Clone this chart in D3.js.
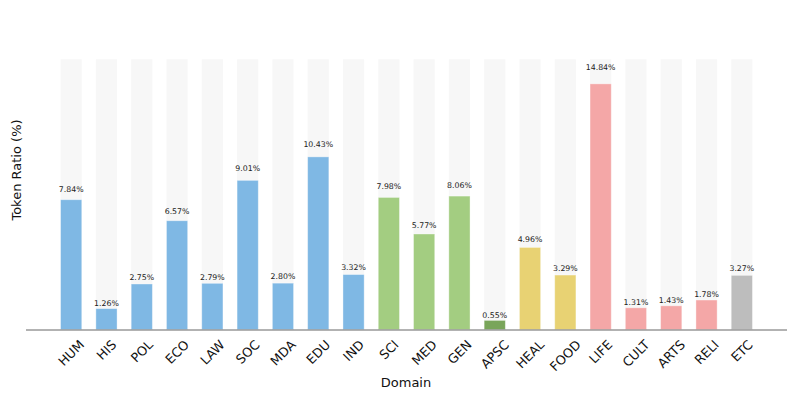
<!DOCTYPE html>
<html lang="en">
<head>
    <meta charset="UTF-8">
    <title>Token Ratio by Domain</title>
    <script src="https://d3js.org/d3.v7.min.js"></script>
    <style>
        body {
            margin: 0;
            background: #fff;
        }
        text {
            font-family: "DejaVu Sans", sans-serif;
        }
        .value-label {
            font-size: 7.8px;
            fill: #222;
        }
        .tick-label {
            font-size: 12.8px;
            fill: #111;
        }
        .axis-title {
            font-size: 13px;
            fill: #111;
        }
    </style>
</head>
<body>
    <div id="chart"></div>

    <script>
        // Data
        const domains = ["HUM", "HIS", "POL", "ECO", "LAW", "SOC", "MDA", "EDU", "IND",
            "SCI", "MED", "GEN", "APSC", "HEAL", "FOOD", "LIFE", "CULT", "ARTS", "RELI", "ETC"];
        const ratios = [7.84, 1.26, 2.75, 6.57, 2.79, 9.01, 2.80, 10.43, 3.32,
            7.98, 5.77, 8.06, 0.55, 4.96, 3.29, 14.84, 1.31, 1.43, 1.78, 3.27];
        const groups = ["hum", "hum", "hum", "hum", "hum", "hum", "hum", "hum", "hum",
            "sci", "sci", "sci", "apsc", "health", "health", "life", "life", "life", "life", "etc"];

        // Colours per group
        const groupColors = {
            hum: "#7fb8e4",
            sci: "#a3cd81",
            apsc: "#79a55a",
            health: "#e8d273",
            life: "#f4a7a7",
            etc: "#bdbdbd"
        };

        const width = 797;
        const height = 399;
        const data = domains.map((d, i) => ({ domain: d, value: ratios[i], group: groups[i] }));

        const svg = d3.select("#chart")
            .append("svg")
            .attr("width", width)
            .attr("height", height);

        // Scales
        const x = d3.scaleBand()
            .domain(domains)
            .range([26, 787])
            .paddingInner(0.4)
            .paddingOuter(0.98);

        const yMax = d3.max(ratios) * 1.1;
        const y = d3.scaleLinear()
            .domain([0, yMax])
            .range([329.5, 59.3]);

        // Background track bars
        svg.selectAll(".track")
            .data(data)
            .enter()
            .append("rect")
            .attr("class", "track")
            .attr("x", d => x(d.domain))
            .attr("y", y(yMax))
            .attr("width", x.bandwidth())
            .attr("height", y(0) - y(yMax))
            .style("fill", "#f7f7f7");

        // Value bars
        svg.selectAll(".bar")
            .data(data)
            .enter()
            .append("rect")
            .attr("class", "bar")
            .attr("x", d => x(d.domain))
            .attr("y", d => y(d.value))
            .attr("width", x.bandwidth())
            .attr("height", d => y(0) - y(d.value))
            .style("fill", d => groupColors[d.group])
            .style("stroke", "#fff")
            .style("stroke-opacity", 0.45)
            .style("stroke-width", 0.8);

        // Value labels
        svg.selectAll(".value-label")
            .data(data)
            .enter()
            .append("text")
            .attr("class", "value-label")
            .attr("x", d => x(d.domain) + x.bandwidth() / 2)
            .attr("y", d => y(d.value * 1.05) - 1.5)
            .attr("text-anchor", "middle")
            .text(d => d.value.toFixed(2) + "%");

        // Bottom axis line (no ticks)
        svg.append("line")
            .attr("x1", 26)
            .attr("x2", 787)
            .attr("y1", 330)
            .attr("y2", 330)
            .style("stroke", "#666")
            .style("stroke-width", 1);

        // Rotated tick labels, centred on each bar
        const tickTop = 339;
        const tickSize = 12.8;
        svg.selectAll(".tick-label")
            .data(data)
            .enter()
            .append("text")
            .attr("class", "tick-label")
            .attr("text-anchor", "middle")
            .attr("dy", "0.36em")
            .text(d => d.domain)
            .each(function (d) {
                const w = this.getComputedTextLength();
                const cx = x(d.domain) + x.bandwidth() / 2;
                const cy = tickTop + (w + 0.73 * tickSize) * Math.SQRT1_2 / 2;
                d3.select(this)
                    .attr("x", cx)
                    .attr("y", cy)
                    .attr("transform", `rotate(-45, ${cx}, ${cy})`);
            });

        // Axis titles
        svg.append("text")
            .attr("class", "axis-title")
            .attr("x", 406)
            .attr("y", 387)
            .attr("text-anchor", "middle")
            .text("Domain");

        svg.append("text")
            .attr("class", "axis-title")
            .attr("transform", "rotate(-90)")
            .attr("x", -170)
            .attr("y", 21)
            .attr("text-anchor", "middle")
            .text("Token Ratio (%)");
    </script>
</body>
</html>
